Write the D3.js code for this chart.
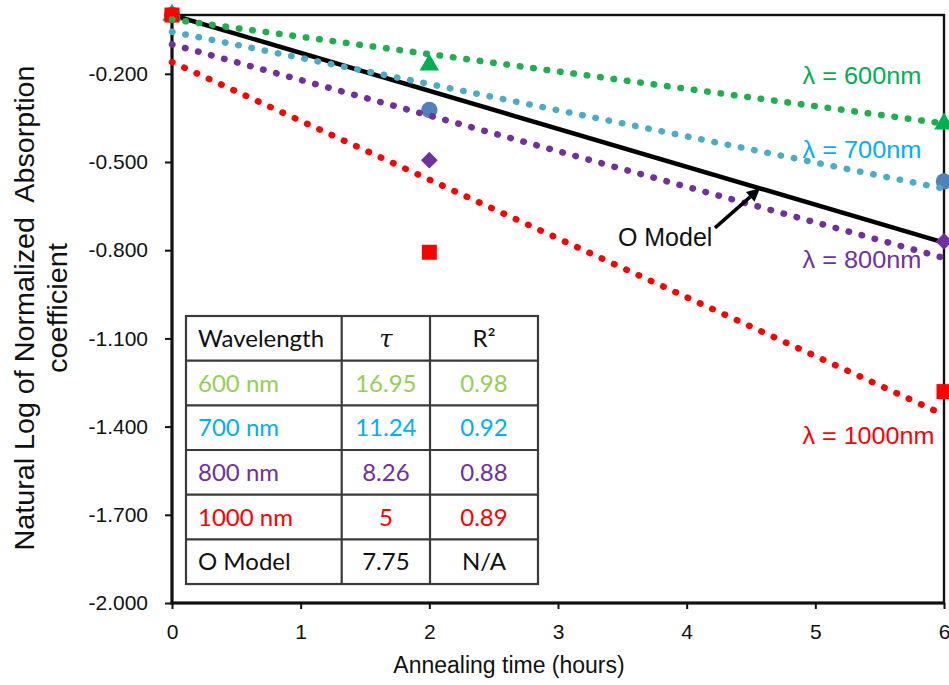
<!DOCTYPE html>
<html>
<head>
<meta charset="utf-8">
<script src="https://cdn.jsdelivr.net/npm/d3@7"></script>
<style>
  html, body { margin: 0; padding: 0; background: #ffffff; }
  svg { display: block; }
</style>
</head>
<body>
<script>
// Annealing time (hours) at which absorption was measured
const hours = [0, 2, 6];

// ln(normalized absorption coefficient) per wavelength
const lnAbs600 = [0, -0.170, -0.370];
const lnAbs700 = [0, -0.323, -0.566];
const lnAbs800 = [0, -0.494, -0.770];
const lnAbs1000 = [0, -0.807, -1.281];

// Linear fits: ln(a) = intercept - t / tau
const wavelengths = ["600 nm", "700 nm", "800 nm", "1000 nm"];
const tauValues = [16.95, 11.24, 8.26, 5];
const tauLabels = ["16.95", "11.24", "8.26", "5"];
const rSquared = ["0.98", "0.92", "0.88", "0.89"];
const fitIntercepts = [-0.015, -0.057, -0.100, -0.160];
const fitHours = [0, 6];

// Oxygen diffusion model
const modelName = "O Model";
const modelTau = 7.75;
const modelTauLabel = "7.75";
const modelR2 = "N/A";
const modelHours = [0, 6];

// Curve labels
const curveLabels = ["λ = 600nm", "λ = 700nm", "λ = 800nm", "λ = 1000nm"];

// Axis ticks
const xTicks = [0, 1, 2, 3, 4, 5, 6];
const yTicks = [-2.0, -1.7, -1.4, -1.1, -0.8, -0.5, -0.2];

// ---- styling ----
const W = 949, H = 685;
const plot = { left: 172, right: 944, top: 15, bottom: 603 };
const seriesData = [lnAbs600, lnAbs700, lnAbs800, lnAbs1000];
const markerColors = ["#00B050", "#4F81BD", "#7030A0", "#FF0000"];
const fitColors = ["#1DB050", "#4BACC6", "#7030A0", "#FF0000"];
const labelColors = ["#00B050", "#00B0F0", "#7030A0", "#FF0000"];
const tableColors = ["#92D050", "#00B0F0", "#7030A0", "#FF0000"];
const markerShapes = ["triangle", "circle", "diamond", "square"];
// label placement in data units: [hour, value of baseline], text width in px
const labelPlacement = [[4.90, -0.234, 119], [4.90, -0.486, 119], [4.90, -0.860, 119], [4.90, -1.459, 132]];
const axisFont = "'Liberation Sans', Arial, sans-serif";
const tableFont = "Lato, 'Open Sans', sans-serif";

const svg = d3.select("body").append("svg")
  .attr("width", W).attr("height", H)
  .attr("viewBox", `0 0 ${W} ${H}`);

const x = d3.scaleLinear().domain([0, 6]).range([plot.left, plot.right]);
const y = d3.scaleLinear().domain([-2, 0]).range([plot.bottom, plot.top]);

// plot frame
svg.append("rect")
  .attr("x", plot.left).attr("y", plot.top)
  .attr("width", plot.right - plot.left).attr("height", plot.bottom - plot.top)
  .attr("fill", "none").attr("stroke", "#111").attr("stroke-width", 2.4);

// axes
const fmt = d3.formatLocale({ decimal: ".", thousands: ",", grouping: [3], currency: ["", ""], minus: "-" }).format(".3f");

const yAxis = svg.append("g")
  .attr("transform", `translate(${plot.left},0)`)
  .call(d3.axisLeft(y).tickValues(yTicks).tickFormat(fmt).tickSize(7).tickPadding(17));
const xAxis = svg.append("g")
  .attr("transform", `translate(0,${plot.bottom})`)
  .call(d3.axisBottom(x).tickValues(xTicks).tickFormat(d3.format("d")).tickSize(6).tickPadding(15));

[yAxis, xAxis].forEach(g => {
  g.select(".domain").remove();
  g.selectAll(".tick line").attr("stroke", "#111").attr("stroke-width", 2);
  g.selectAll(".tick text")
    .attr("fill", "#111")
    .style("font-family", axisFont)
    .style("font-size", "21px");
});

svg.append("line")
  .attr("x1", plot.left).attr("x2", plot.left)
  .attr("y1", plot.top).attr("y2", plot.bottom + 1.5)
  .attr("stroke", "#111").attr("stroke-width", 3);
svg.append("line")
  .attr("x1", plot.left - 1.5).attr("x2", plot.right)
  .attr("y1", plot.bottom).attr("y2", plot.bottom)
  .attr("stroke", "#111").attr("stroke-width", 3);

// axis titles
svg.append("text")
  .attr("x", 509).attr("y", 673)
  .attr("text-anchor", "middle")
  .style("font-family", axisFont).style("font-size", "23px").attr("fill", "#111")
  .text("Annealing time (hours)");

const yTitle = svg.append("g").attr("transform", "translate(0,308) rotate(-90)");
yTitle.append("text")
  .attr("x", 0).attr("y", 34)
  .attr("text-anchor", "middle")
  .attr("textLength", 485).attr("lengthAdjust", "spacingAndGlyphs")
  .style("font-family", axisFont).style("font-size", "27px").attr("fill", "#111")
  .style("white-space", "pre")
  .text("Natural Log of Normalized  Absorption");
yTitle.append("text")
  .attr("x", 0).attr("y", 67)
  .attr("text-anchor", "middle")
  .attr("textLength", 130).attr("lengthAdjust", "spacingAndGlyphs")
  .style("font-family", axisFont).style("font-size", "27px").attr("fill", "#111")
  .text("coefficient");

// model line
const line = d3.line().x(d => x(d[0])).y(d => y(d[1]));
svg.append("path")
  .attr("d", line(modelHours.map(t => [t, -t / modelTau])))
  .attr("fill", "none").attr("stroke", "#000").attr("stroke-width", 4.5);

// measured points
const symbolTypes = {
  triangle: d3.symbol().type(d3.symbolTriangle).size(165),
  circle: d3.symbol().type(d3.symbolCircle).size(210),
  diamond: d3.symbol().type(d3.symbolSquare).size(140),
  square: d3.symbol().type(d3.symbolSquare).size(225)
};
seriesData.forEach((vals, i) => {
  const shape = markerShapes[i];
  svg.append("g").selectAll("path")
    .data(hours.map((t, j) => [t, vals[j]]))
    .join("path")
    .attr("d", symbolTypes[shape])
    .attr("transform", d => `translate(${x(d[0])},${y(d[1])})${shape === "diamond" ? " rotate(45)" : ""}`)
    .attr("fill", markerColors[i]);
});

// dotted trendlines
seriesData.forEach((vals, i) => {
  svg.append("path")
    .attr("d", line(fitHours.map(t => [t, fitIntercepts[i] - t / tauValues[i]])))
    .attr("fill", "none")
    .attr("stroke", fitColors[i])
    .attr("stroke-width", 6.5)
    .attr("stroke-linecap", "round")
    .attr("stroke-dasharray", "0.5 13");
});

// curve labels
curveLabels.forEach((txt, i) => {
  const [t, v, w] = labelPlacement[i];
  svg.append("text")
    .attr("x", x(t)).attr("y", y(v))
    .attr("textLength", w).attr("lengthAdjust", "spacingAndGlyphs")
    .style("font-family", axisFont).style("font-size", "23px")
    .attr("fill", labelColors[i])
    .text(txt);
});

// model annotation with arrow
const arrowHeadT = 4.57, arrowTail = [4.22, -0.724];
const head = [x(arrowHeadT), y(-arrowHeadT / modelTau)];
const tail = [x(arrowTail[0]), y(arrowTail[1])];
const ang = Math.atan2(head[1] - tail[1], head[0] - tail[0]);
const hl = 13, hw = 6.5;
const base = [head[0] - hl * Math.cos(ang), head[1] - hl * Math.sin(ang)];
svg.append("line")
  .attr("x1", tail[0]).attr("y1", tail[1])
  .attr("x2", base[0]).attr("y2", base[1])
  .attr("stroke", "#000").attr("stroke-width", 3.5);
svg.append("path")
  .attr("d", `M${head[0]},${head[1]}L${base[0] - hw * Math.sin(ang)},${base[1] + hw * Math.cos(ang)}L${base[0] + hw * Math.sin(ang)},${base[1] - hw * Math.cos(ang)}Z`)
  .attr("fill", "#000");
svg.append("text")
  .attr("x", x(4.20)).attr("y", y(-0.785))
  .attr("text-anchor", "end")
  .style("font-family", axisFont).style("font-size", "25px").attr("fill", "#111")
  .text(modelName);

// summary table
const tbl = { cols: [186, 341.7, 430, 538], top: 316, rowH: 44.67 };
const rows = [
  { cells: ["Wavelength", "τ", "R²"], color: "#111" },
  ...wavelengths.map((w, i) => ({ cells: [w, tauLabels[i], rSquared[i]], color: tableColors[i] })),
  { cells: [modelName, modelTauLabel, modelR2], color: "#111" }
];
const tg = svg.append("g");
tg.append("rect")
  .attr("x", tbl.cols[0]).attr("y", tbl.top)
  .attr("width", tbl.cols[3] - tbl.cols[0]).attr("height", tbl.rowH * rows.length)
  .attr("fill", "#fff").attr("stroke", "#3a3a3a").attr("stroke-width", 2.2);
for (let r = 1; r < rows.length; r++) {
  tg.append("line")
    .attr("x1", tbl.cols[0]).attr("x2", tbl.cols[3])
    .attr("y1", tbl.top + r * tbl.rowH).attr("y2", tbl.top + r * tbl.rowH)
    .attr("stroke", "#3a3a3a").attr("stroke-width", 2.2);
}
[1, 2].forEach(c => {
  tg.append("line")
    .attr("x1", tbl.cols[c]).attr("x2", tbl.cols[c])
    .attr("y1", tbl.top).attr("y2", tbl.top + tbl.rowH * rows.length)
    .attr("stroke", "#3a3a3a").attr("stroke-width", 2.2);
});
rows.forEach((row, r) => {
  const cy = tbl.top + (r + 0.5) * tbl.rowH + 8.5;
  row.cells.forEach((txt, c) => {
    const isTau = r === 0 && c === 1;
    tg.append("text")
      .attr("x", c === 0 ? tbl.cols[0] + 12 : (tbl.cols[c] + tbl.cols[c + 1]) / 2)
      .attr("y", cy)
      .attr("text-anchor", c === 0 ? "start" : "middle")
      .style("font-family", isTau ? "'DejaVu Serif', serif" : tableFont)
      .style("font-style", isTau ? "italic" : "normal")
      .style("font-size", "24px")
      .attr("fill", row.color)
      .text(txt);
  });
});
</script>
</body>
</html>
